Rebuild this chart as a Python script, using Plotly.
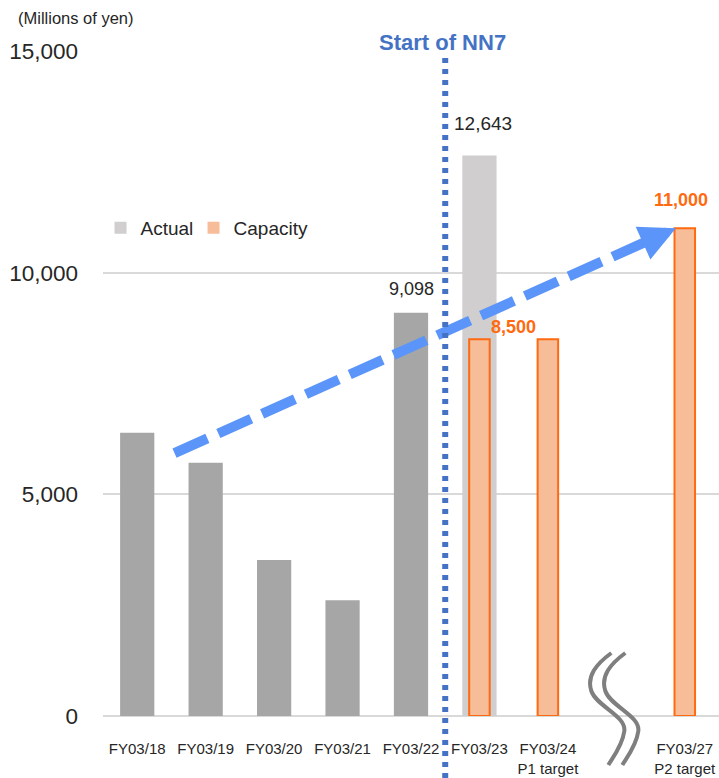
import plotly.graph_objects as go

# ---- data ----
categories = ["FY03/18", "FY03/19", "FY03/20", "FY03/21", "FY03/22",
              "FY03/23", "FY03/24<br>P1 target", "", "FY03/27<br>P2 target"]
actual_x = [0, 1, 2, 3, 4, 5]
actual_values = [6390, 5710, 3520, 2610, 9098, 12643]
capacity_x = [5, 6, 8]
capacity_values = [8500, 8500, 11000]
y_ticks = [0, 5000, 10000, 15000]
nn7_start_x = 4.5
break_x = 7
arrow_start = (0.545, 5930)
arrow_tip = (7.87, 11000)

FONT = "Liberation Sans, Arial, sans-serif"
DARK_GREY = "#A6A6A6"
LIGHT_GREY = "#D0CECE"
ORANGE_FILL = "#F6BD98"
ORANGE_LINE = "#FF6A10"
BLUE_DOT = "#4472C4"
ARROW_BLUE = "#5B95F9"
TEXT = "#262626"

actual_colors = [DARK_GREY] * 5 + [LIGHT_GREY]

fig = go.Figure()

fig.add_trace(go.Bar(
    x=actual_x, y=actual_values, width=0.5,
    marker=dict(color=actual_colors, line=dict(width=0)),
    showlegend=False, name="Actual"))
fig.add_trace(go.Bar(
    x=capacity_x, y=capacity_values, width=0.3,
    marker=dict(color=ORANGE_FILL, line=dict(color=ORANGE_LINE, width=2)),
    showlegend=False, name="Capacity"))

# legend-only entries
fig.add_trace(go.Bar(x=[None], y=[None], name="Actual", legendwidth=48,
                     marker=dict(color=LIGHT_GREY, line=dict(width=0))))
fig.add_trace(go.Bar(x=[None], y=[None], name="Capacity", legendwidth=90,
                     marker=dict(color=ORANGE_FILL, line=dict(width=0))))

# dashed growth arrow body; head base 35 px back from the tip
px_per_x = 616 / 9
px_per_y = 665 / 15000
dx_px = (arrow_tip[0] - arrow_start[0]) * px_per_x
dy_px = (arrow_tip[1] - arrow_start[1]) * px_per_y
length_px = (dx_px ** 2 + dy_px ** 2) ** 0.5
ux, uy = dx_px / length_px, dy_px / length_px
head_len = 35
base_x = arrow_tip[0] - head_len * ux / px_per_x
base_y = arrow_tip[1] - head_len * uy / px_per_y
fig.add_trace(go.Scatter(
    x=[arrow_start[0], base_x], y=[arrow_start[1], base_y],
    mode="lines", line=dict(color=ARROW_BLUE, width=10, dash="36px,12px"),
    showlegend=False, hoverinfo="skip"))

annotations = []
annotations.append(dict(
    x=arrow_tip[0], y=arrow_tip[1], xref="x", yref="y", text="",
    showarrow=True, arrowhead=2, arrowsize=0.72, arrowwidth=10,
    arrowcolor=ARROW_BLUE, ax=-head_len * ux, ay=head_len * uy, standoff=0))

# value labels
annotations.append(dict(x=actual_x[4], y=actual_values[4], text=f"{actual_values[4]:,}",
                        showarrow=False, yshift=24, font=dict(size=18, color=TEXT, family=FONT)))
annotations.append(dict(x=actual_x[5], y=actual_values[5], text=f"{actual_values[5]:,}",
                        showarrow=False, yshift=32, xshift=4, font=dict(size=19, color=TEXT, family=FONT)))
annotations.append(dict(x=(capacity_x[0] + capacity_x[1]) / 2, y=capacity_values[0],
                        text=f"<b>{capacity_values[0]:,}</b>", showarrow=False, yshift=12,
                        font=dict(size=18, color=ORANGE_LINE, family=FONT)))
annotations.append(dict(x=capacity_x[2], y=capacity_values[2], text=f"<b>{capacity_values[2]:,}</b>",
                        showarrow=False, yshift=28, xshift=-4,
                        font=dict(size=18, color=ORANGE_LINE, family=FONT)))

annotations.append(dict(x=nn7_start_x, y=1.0135, xref="x", yref="paper", yanchor="middle",
                        text="<b>Start of NN7</b>", showarrow=False, xshift=-3,
                        font=dict(size=22, color=BLUE_DOT, family=FONT)))
annotations.append(dict(x=-0.141, y=1.05, xref="paper", yref="paper", yanchor="middle",
                        text="(Millions of yen)", showarrow=False, xanchor="left",
                        font=dict(size=16.5, color=TEXT, family=FONT)))

shapes = []
shapes.append(dict(type="line", xref="x", yref="paper", x0=nn7_start_x, x1=nn7_start_x,
                   y0=0.9895, y1=-0.095, line=dict(color=BLUE_DOT, width=6, dash="5px,6px"),
                   layer="above"))
# axis break symbol (pixel offsets relative to break position on the axis)
for off in (0, 14):
    p = (f"M {-5+off},63 C {-20+off},52 {-30+off},40 {-25+off},25 "
         f"C {-20+off},10 {10+off},0 {8+off},-15 C {6+off},-30 {-4+off},-42 {-8+off},-49")
    shapes.append(dict(type="path", xref="x", yref="paper", xsizemode="pixel", ysizemode="pixel",
                       xanchor=break_x, yanchor=0, path=p,
                       line=dict(color="#7F7F7F", width=4), layer="above"))

fig.update_layout(
    width=719, height=778,
    margin=dict(l=103, r=0, t=51, b=62),
    paper_bgcolor="white", plot_bgcolor="white",
    barmode="overlay",
    font=dict(family=FONT, color=TEXT),
    legend=dict(orientation="h", x=-0.004, xanchor="left", y=0.734, yanchor="middle",
                font=dict(size=19, color=TEXT, family=FONT),
                bgcolor="rgba(0,0,0,0)"),
    annotations=annotations, shapes=shapes,
    xaxis=dict(range=[-0.5, 8.5], tickmode="array",
               tickvals=[i for i, c in enumerate(categories) if c],
               ticktext=[c for c in categories if c],
               showgrid=False, zeroline=False, showline=False, ticks="",
               tickfont=dict(size=15, color=TEXT, family=FONT), ticklabelstandoff=22),
    yaxis=dict(range=[0, 15000], tickmode="array", tickvals=y_ticks,
               ticktext=[f"{v:,}" for v in y_ticks],
               showgrid=True, gridcolor="#D9D9D9", gridwidth=1.5,
               zeroline=True, zerolinecolor="#D9D9D9", zerolinewidth=2,
               showline=False, ticks="", ticklabelstandoff=24,
               tickfont=dict(size=22.5, color=TEXT, family=FONT)),
)

fig.write_html("out.html")
